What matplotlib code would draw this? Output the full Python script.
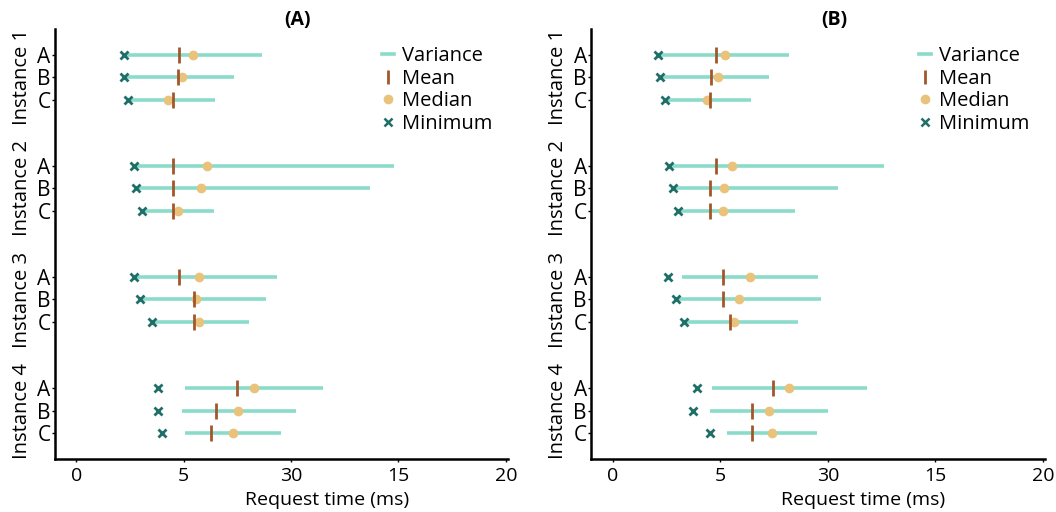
import numpy as np
import matplotlib
matplotlib.use("Agg")
import matplotlib.pyplot as plt
from matplotlib.lines import Line2D

plt.rcParams['font.family'] = ['Open Sans', 'DejaVu Sans']

instances = ['Instance 1', 'Instance 2', 'Instance 3', 'Instance 4']
variants = ['A', 'B', 'C']
panels = ['(A)', '(B)']
x_ticks = [0, 5, 10, 15, 20]
x_tick_labels = ['0', '5', '30', '15', '20']

# panel (A), rows ordered Instance1 A,B,C ... Instance4 A,B,C
min_a = [2.24, 2.21, 2.39, 2.69, 2.80, 3.05, 2.69, 2.95, 3.51, 3.79, 3.82, 4.00]
var_lo_a = [2.30, 2.27, 2.45, 2.75, 2.86, 3.11, 2.75, 3.01, 3.57, 5.07, 4.93, 5.08]
var_hi_a = [8.66, 7.33, 6.47, 14.79, 13.66, 6.40, 9.34, 8.84, 8.03, 11.47, 10.21, 9.51]
mean_a = [4.80, 4.72, 4.48, 4.48, 4.48, 4.48, 4.80, 5.47, 5.47, 7.46, 6.48, 6.26]
median_a = [5.45, 4.90, 4.26, 6.07, 5.80, 4.74, 5.70, 5.58, 5.69, 8.25, 7.55, 7.29]

# panel (B)
min_b = [2.13, 2.21, 2.43, 2.62, 2.82, 3.05, 2.58, 2.96, 3.32, 3.94, 3.72, 4.55]
var_lo_b = [2.19, 2.27, 2.49, 2.68, 2.88, 3.11, 3.21, 3.02, 3.38, 4.64, 4.55, 5.31]
var_hi_b = [8.18, 7.29, 6.45, 12.60, 10.49, 8.49, 9.56, 9.67, 8.63, 11.83, 10.03, 9.51]
mean_b = [4.81, 4.59, 4.52, 4.81, 4.52, 4.52, 5.15, 5.15, 5.48, 7.46, 6.46, 6.46]
median_b = [5.24, 4.89, 4.38, 5.57, 5.17, 5.15, 6.38, 5.89, 5.65, 8.22, 7.26, 7.40]

c_var = '#8adbc9'
c_mean = '#a2572b'
c_median = '#e9c37c'
c_min = '#1e6f67'

fig = plt.figure(figsize=(10.56, 5.12), dpi=100)
ax_a = fig.add_axes([0.052, 0.104, 0.429, 0.839])
ax_b = fig.add_axes([0.5597, 0.104, 0.430, 0.839])

ypos = np.array([g * 5 + r for g in range(len(instances)) for r in range(len(variants))])

data = [
    (ax_a, min_a, var_lo_a, var_hi_a, mean_a, median_a),
    (ax_b, min_b, var_lo_b, var_hi_b, mean_b, median_b),
]

for (ax, mins, lo, hi, means, medians), title in zip(data, panels):
    ax.hlines(ypos, lo, hi, color=c_var, lw=2.6, zorder=1)
    ax.plot(medians, ypos, 'o', color=c_median, ms=6, zorder=2, ls='none')
    ax.plot(means, ypos, '|', color=c_mean, ms=12, mew=2, zorder=3, ls='none')
    ax.plot(mins, ypos, 'x', color=c_min, ms=5.5, mew=2, zorder=4, ls='none')

    ax.set_xlim(-1.0, 20.1)
    ax.set_ylim(17 + 1.17, -1.17)
    ax.set_xticks(x_ticks)
    ax.set_xticklabels(x_tick_labels)
    ax.set_yticks(ypos)
    ax.set_yticklabels(variants * len(instances))
    ax.tick_params(axis='y', length=2, pad=1, labelsize=15, width=1)
    ax.tick_params(axis='x', length=2, pad=4, labelsize=14, width=1)
    for s in ['top', 'right']:
        ax.spines[s].set_visible(False)
    for s in ['left', 'bottom']:
        ax.spines[s].set_linewidth(1.8)

    for g, name in enumerate(instances):
        ax.text(-0.073, g * 5 + 1, name, rotation=90, ha='center', va='center',
                fontsize=14.5, transform=ax.get_yaxis_transform())

    ax.set_xlabel('Request time (ms)', fontsize=14)
    ax.xaxis.set_label_coords(0.6, -0.075)
    ax.text(10.3, -1.57, title, ha='center', va='center', fontsize=14, fontweight='bold')

    handles = [
        Line2D([], [], color=c_var, lw=2.6),
        Line2D([], [], color=c_mean, marker='|', ls='none', ms=10, mew=2),
        Line2D([], [], color=c_median, marker='o', ls='none', ms=6),
        Line2D([], [], color=c_min, marker='x', ls='none', ms=6, mew=1.8),
    ]
    ax.legend(handles, ['Variance', 'Mean', 'Median', 'Minimum'], loc='upper left',
              bbox_to_anchor=(0.722, 0.96), frameon=False, fontsize=14.5,
              handlelength=0.6, handletextpad=0.4, labelspacing=0.12,
              borderpad=0, borderaxespad=0)

fig.savefig('out.png', dpi=100)
